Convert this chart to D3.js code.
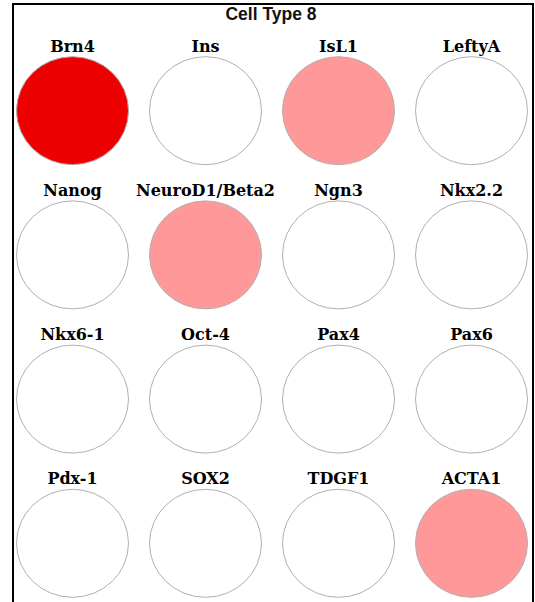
<!DOCTYPE html>
<html>
<head>
<meta charset="utf-8">
<script src="https://cdn.jsdelivr.net/npm/d3@7"></script>
<style>
  html, body { margin: 0; padding: 0; background: #fff; }
  svg { display: block; }
</style>
</head>
<body>
<svg id="chart" width="535" height="602"></svg>
<script>
// Marker genes shown for this cell type, in reading order (4 per row)
const genes = [
  "Brn4", "Ins", "IsL1", "LeftyA",
  "Nanog", "NeuroD1/Beta2", "Ngn3", "Nkx2.2",
  "Nkx6-1", "Oct-4", "Pax4", "Pax6",
  "Pdx-1", "SOX2", "TDGF1", "ACTA1"
];
// Expression level per gene: 0 = none, 1 = moderate, 2 = high
const levels = [
  2, 0, 1, 0,
  0, 1, 0, 0,
  0, 0, 0, 0,
  0, 0, 0, 1
];
const levelDomain = [0, 1, 2];
const title = "Cell Type 8";

const svg = d3.select("#chart");
const nCols = 4, nRows = 4;

// Outer frame
svg.append("rect")
  .attr("x", 13).attr("y", 4)
  .attr("width", 520).attr("height", 620)
  .attr("fill", "none")
  .attr("stroke", "#000")
  .attr("stroke-width", 2);

svg.append("text")
  .attr("x", 271).attr("y", 20)
  .attr("text-anchor", "middle")
  .attr("font-family", "Liberation Sans, Arial, sans-serif")
  .attr("font-weight", "bold")
  .attr("font-size", 17.5)
  .attr("fill", "#111")
  .text(title);

// Grid placement of each gene cell
const x = d3.scaleLinear().domain([0, nCols - 1]).range([72.5, 471.5]);
const y = d3.scaleLinear().domain([0, nRows - 1]).range([110.7, 543.3]);
const color = d3.scaleOrdinal().domain(levelDomain).range(["#ffffff", "#ff9999", "#ee0000"]);

const rx = 56, ry = 54;

const data = genes.map((g, i) => ({ gene: g, level: levels[i], col: i % nCols, row: Math.floor(i / nCols) }));

const cells = svg.selectAll("g.cell")
  .data(data)
  .join("g")
  .attr("class", "cell")
  .attr("transform", d => `translate(${x(d.col)},${y(d.row)})`);

cells.append("ellipse")
  .attr("rx", rx).attr("ry", ry)
  .attr("fill", d => color(d.level))
  .attr("stroke", "#b0b0b0")
  .attr("stroke-width", 1);

cells.append("text")
  .attr("y", -59)
  .attr("text-anchor", "middle")
  .attr("font-family", "DejaVu Serif, serif")
  .attr("font-weight", "bold")
  .attr("font-size", 16)
  .attr("fill", "#000")
  .text(d => d.gene);
</script>
</body>
</html>
